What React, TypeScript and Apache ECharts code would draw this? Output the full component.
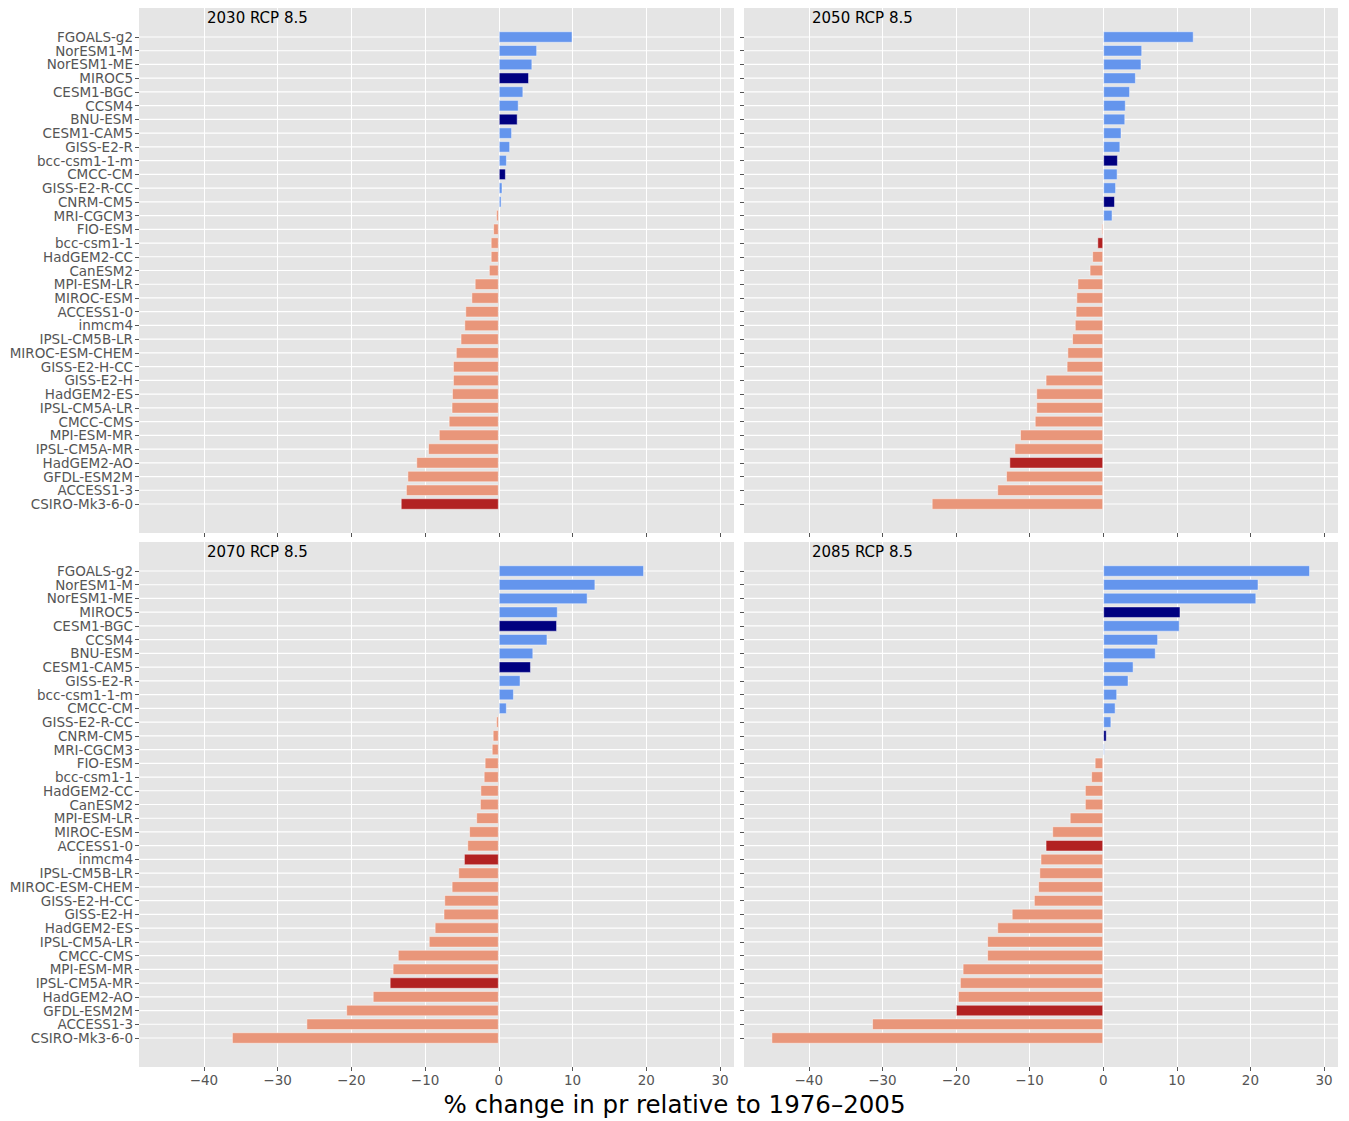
import React, { useEffect, useRef } from "react";
import * as echarts from "echarts";

const models = [
  "FGOALS-g2", "NorESM1-M", "NorESM1-ME", "MIROC5", "CESM1-BGC", "CCSM4", "BNU-ESM",
  "CESM1-CAM5", "GISS-E2-R", "bcc-csm1-1-m", "CMCC-CM", "GISS-E2-R-CC", "CNRM-CM5",
  "MRI-CGCM3", "FIO-ESM", "bcc-csm1-1", "HadGEM2-CC", "CanESM2", "MPI-ESM-LR", "MIROC-ESM",
  "ACCESS1-0", "inmcm4", "IPSL-CM5B-LR", "MIROC-ESM-CHEM", "GISS-E2-H-CC", "GISS-E2-H",
  "HadGEM2-ES", "IPSL-CM5A-LR", "CMCC-CMS", "MPI-ESM-MR", "IPSL-CM5A-MR", "HadGEM2-AO",
  "GFDL-ESM2M", "ACCESS1-3", "CSIRO-Mk3-6-0",
];

const titles = ["2030 RCP 8.5", "2050 RCP 8.5", "2070 RCP 8.5", "2085 RCP 8.5"];

const values2030 = [10.0, 5.2, 4.55, 4.1, 3.33, 2.7, 2.56, 1.8, 1.54, 1.1, 0.96, 0.5, 0.38,
  -0.38, -0.77, -1.1, -1.1, -1.35, -3.27, -3.72, -4.55, -4.68, -5.19, -5.83, -6.22, -6.22,
  -6.35, -6.41, -6.8, -8.14, -9.6, -11.2, -12.4, -12.6, -13.3];
const values2050 = [12.3, 5.3, 5.2, 4.44, 3.65, 3.07, 3.0, 2.49, 2.33, 2.0, 1.96, 1.75, 1.6,
  1.27, -0.25, -0.8, -1.5, -1.85, -3.5, -3.65, -3.75, -3.86, -4.23, -4.87, -4.97, -7.83,
  -9.1, -9.1, -9.3, -11.3, -12.06, -12.75, -13.2, -14.4, -23.3];
const values2070 = [19.7, 13.1, 12.05, 8.0, 7.9, 6.6, 4.68, 4.36, 2.95, 2.05, 1.09, -0.38,
  -0.83, -0.96, -1.92, -2.05, -2.5, -2.56, -3.07, -4.03, -4.28, -4.73, -5.5, -6.4, -7.4,
  -7.5, -8.7, -9.5, -13.7, -14.4, -14.8, -17.1, -20.7, -26.1, -36.2];
const values2085 = [28.1, 21.1, 20.8, 10.5, 10.4, 7.46, 7.14, 4.13, 3.44, 1.9, 1.69, 1.11,
  0.48, 0.21, -1.16, -1.64, -2.49, -2.49, -4.55, -6.93, -7.83, -8.52, -8.68, -8.84, -9.42,
  -12.43, -14.4, -15.77, -15.77, -19.1, -19.47, -19.74, -20.0, -31.4, -45.08];

// highlighted rows (index into the panel's bar order)
const highlight2030 = [3, 6, 10, 34];
const highlight2050 = [9, 12, 15, 31];
const highlight2070 = [4, 7, 21, 30];
const highlight2085 = [3, 12, 20, 32];

const xTicks = [-40, -30, -20, -10, 0, 10, 20, 30];
const X_MIN = -48.8;
const X_MAX = 31.9;
const xLabel = "% change in pr relative to 1976\u20132005";

const FONT = "DejaVu Sans";

const panels = [
  { values: values2030, hl: highlight2030, left: 139, top: 8, width: 595, showY: true, showX: false },
  { values: values2050, hl: highlight2050, left: 744, top: 8, width: 594, showY: false, showX: false },
  { values: values2070, hl: highlight2070, left: 139, top: 542, width: 595, showY: true, showX: true },
  { values: values2085, hl: highlight2085, left: 744, top: 542, width: 594, showY: false, showX: true },
];
const PANEL_H = 525;
const ROW_OFFSET = 29;

function fmt(v: number) {
  return v < 0 ? "\u2212" + Math.abs(v) : String(v);
}

export default function App() {
  const ref = useRef<HTMLDivElement>(null);
  useEffect(() => {
    if (!ref.current) return;
    const chart = echarts.init(ref.current, null, { renderer: "svg" });
    const grids: any[] = [];
    const xAxes: any[] = [];
    const yAxes: any[] = [];
    const series: any[] = [];
    const graphics: any[] = [];

    const rowIdx = models.map((_, j) => j);

    panels.forEach((p, i) => {
      grids.push({
        left: p.left, top: p.top, width: p.width, height: PANEL_H,
        show: true, backgroundColor: "#E5E5E5", borderWidth: 0, containLabel: false,
      });
      grids.push({
        left: p.left, top: p.top + ROW_OFFSET, width: p.width, height: PANEL_H - 2 * ROW_OFFSET,
        show: false, containLabel: false,
      });
      xAxes.push({
        type: "value", gridIndex: 2 * i, min: X_MIN, max: X_MAX,
        minInterval: 10, maxInterval: 10,
        axisLine: { show: false, onZero: false },
        axisTick: { show: true, length: 4, lineStyle: { color: "#555555" }, customValues: xTicks },
        axisLabel: {
          show: p.showX, color: "#555555", fontFamily: FONT, fontSize: 13.5, margin: 6,
          customValues: xTicks,
          formatter: (v: number) => fmt(v),
        },
        splitLine: { show: true, lineStyle: { color: "#FFFFFF", width: 1 } },
      });
      xAxes.push({
        type: "value", gridIndex: 2 * i + 1, min: X_MIN, max: X_MAX, show: false,
      });
      yAxes.push({ type: "value", gridIndex: 2 * i, show: false, min: 0, max: 1 });
      yAxes.push({
        type: "category", gridIndex: 2 * i + 1, data: models, inverse: true, boundaryGap: false,
        axisLine: { show: false, onZero: false },
        axisTick: { show: true, length: 4, lineStyle: { color: "#555555" } },
        axisLabel: {
          show: p.showY, color: "#555555", fontFamily: FONT, fontSize: 13.5, margin: 6, interval: 0,
        },
        splitLine: { show: false },
      });
      // horizontal white grid lines at every row
      series.push({
        type: "custom", xAxisIndex: 2 * i + 1, yAxisIndex: 2 * i + 1, z: 1, silent: true, clip: false,
        data: rowIdx.map((j) => [X_MIN, j]),
        encode: { x: 0, y: 1 },
        renderItem: (_params: any, api: any) => {
          const a = api.coord([X_MIN, api.value(1)]);
          const b = api.coord([X_MAX, api.value(1)]);
          return {
            type: "line",
            shape: { x1: a[0], y1: a[1], x2: b[0], y2: b[1] },
            style: { stroke: "#FFFFFF", lineWidth: 1.2 },
          };
        },
      });
      series.push({
        type: "bar", xAxisIndex: 2 * i + 1, yAxisIndex: 2 * i + 1, barWidth: 11.5, clip: false,
        z: 3,
        data: p.values.map((v, j) => {
          const hl = p.hl.includes(j);
          const color = v >= 0 ? (hl ? "#000080" : "#6495ED") : (hl ? "#B22222" : "#E9967A");
          return { value: v, itemStyle: { color, borderColor: "rgba(255,255,255,0.45)", borderWidth: 1 } };
        }),
      });
      graphics.push({
        type: "text", left: p.left + 68, top: p.top + 2, z: 20,
        style: { text: titles[i], fill: "#000000", font: `15px "${FONT}"` },
      });
    });

    graphics.push({
      type: "text", x: 674.5, y: 1104, z: 20,
      style: {
        text: xLabel, fill: "#000000", font: `24.5px "${FONT}"`,
        align: "center", verticalAlign: "middle",
      },
    });

    chart.setOption({
      animation: false,
      backgroundColor: "#FFFFFF",
      grid: grids,
      xAxis: xAxes,
      yAxis: yAxes,
      series,
      graphic: graphics,
    });
    return () => chart.dispose();
  }, []);
  return (
    <div
      ref={ref}
      style={{ position: "absolute", left: 0, top: 0, width: 1349, height: 1121 }}
    />
  );
}
